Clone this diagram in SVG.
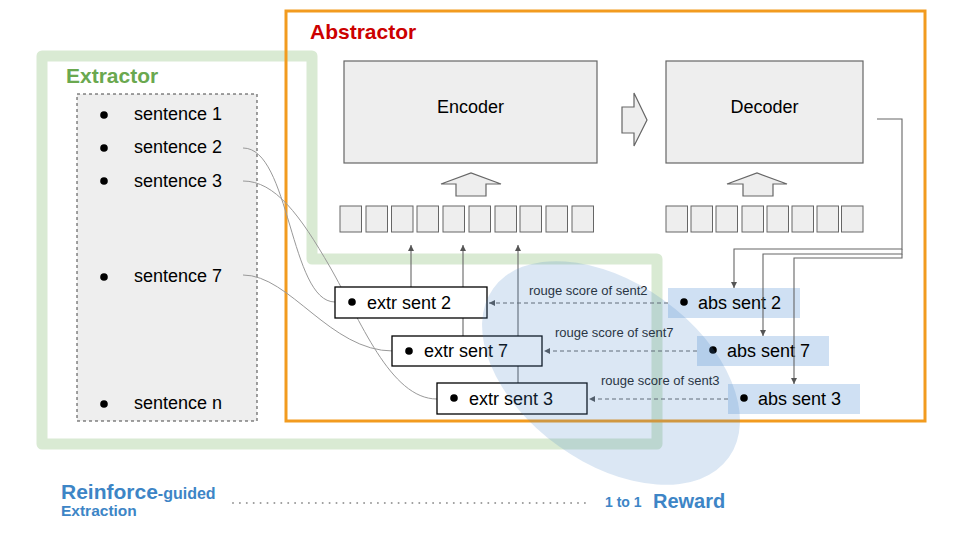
<svg xmlns="http://www.w3.org/2000/svg" width="960" height="540" viewBox="0 0 960 540">
<defs>
<style>
text{font-family:"Liberation Sans",Arial,sans-serif;}
.sent{font-size:18px;fill:#000;}
.lbl{font-size:13px;fill:#222;}
.block{fill:#eeeeee;stroke:#666;stroke-width:1.2;}
.tok{fill:#eeeeee;stroke:#666;stroke-width:1;}
.extr{fill:#fff;stroke:#000;stroke-width:1.3;}
.abs{fill:#cfe0f3;stroke:none;}
.curve{fill:none;stroke:#999;stroke-width:1;}
.conn{fill:none;stroke:#666;stroke-width:1.1;}
.dash{fill:none;stroke:#666;stroke-width:1;stroke-dasharray:4 3;}
</style>
<marker id="ah" viewBox="0 0 10 10" refX="10" refY="5" markerWidth="6" markerHeight="6" markerUnits="userSpaceOnUse" orient="auto">
<path d="M0,0 L10,5 L0,10 Z" fill="#555"/>
</marker>
</defs>
<rect width="960" height="540" fill="#fff"/>

<g id="extractor-frame">
<path d="M42,56 H312 V259 H657 V444 H42 Z" fill="none" stroke="#d9ead3" stroke-width="11" stroke-linejoin="round"/>
<text x="66" y="83" font-size="21" font-weight="bold" fill="#6aa84f">Extractor</text>
</g>

<g id="abstractor-frame">
<rect x="286" y="11" width="639" height="410" fill="none" stroke="#f29b1f" stroke-width="3"/>
<text x="310" y="39" font-size="21" font-weight="bold" fill="#cc0000">Abstractor</text>
</g>

<g id="document">
<rect x="77" y="94" width="180" height="327" fill="#eeeeee" stroke="#444" stroke-width="1" stroke-dasharray="3 3"/>
<circle cx="104" cy="115" r="3.8"/><text class="sent" x="134" y="120">sentence 1</text>
<circle cx="104" cy="148" r="3.8"/><text class="sent" x="134" y="153">sentence 2</text>
<circle cx="104" cy="181" r="3.8"/><text class="sent" x="134" y="187">sentence 3</text>
<circle cx="104" cy="277" r="3.8"/><text class="sent" x="134" y="282">sentence 7</text>
<circle cx="104" cy="404" r="3.8"/><text class="sent" x="134" y="409">sentence n</text>
</g>

<g id="encoder">
<rect class="block" x="344" y="61" width="253" height="102"/>
<text class="sent" x="470.5" y="113" text-anchor="middle">Encoder</text>
</g>
<g id="decoder">
<rect class="block" x="666" y="61" width="197" height="102"/>
<text class="sent" x="764.5" y="113" text-anchor="middle">Decoder</text>
</g>
<g id="enc-to-dec">
<path class="block" d="M622,107 H634 V93 L647,120 L634,146 V133 H622 Z"/>
</g>
<g id="enc-up-arrow">
<path class="block" d="M456,196 V184 H441 L471,173 L501,184 H486 V196 Z"/>
</g>
<g id="dec-up-arrow">
<path class="block" d="M743,196 V184 H727 L757,173 L787,184 H773 V196 Z"/>
</g>
<g id="enc-tokens">
<rect class="tok" x="340" y="206" width="21.5" height="26"/>
<rect class="tok" x="366" y="206" width="21.5" height="26"/>
<rect class="tok" x="391.5" y="206" width="21.5" height="26"/>
<rect class="tok" x="417" y="206" width="21.5" height="26"/>
<rect class="tok" x="443" y="206" width="21.5" height="26"/>
<rect class="tok" x="469" y="206" width="21.5" height="26"/>
<rect class="tok" x="495" y="206" width="21.5" height="26"/>
<rect class="tok" x="520" y="206" width="21.5" height="26"/>
<rect class="tok" x="546" y="206" width="21.5" height="26"/>
<rect class="tok" x="572" y="206" width="21.5" height="26"/>
</g>
<g id="dec-tokens">
<rect class="tok" x="666" y="206" width="21.5" height="26"/>
<rect class="tok" x="691" y="206" width="21.5" height="26"/>
<rect class="tok" x="716" y="206" width="21.5" height="26"/>
<rect class="tok" x="742" y="206" width="21.5" height="26"/>
<rect class="tok" x="767" y="206" width="21.5" height="26"/>
<rect class="tok" x="792" y="206" width="21.5" height="26"/>
<rect class="tok" x="817" y="206" width="21.5" height="26"/>
<rect class="tok" x="841.5" y="206" width="21.5" height="26"/>
</g>

<g id="connectors">
<path class="curve" d="M243,148 C290,148 290,302 335,302"/>
<path class="curve" d="M243,181 C275,181 300,215 330,267 C360,319 390,399 437,399"/>
<path class="curve" d="M243,275 C290,275 330,351 393,351"/>
<path class="conn" d="M411,287 V245" marker-end="url(#ah)"/>
<path class="conn" d="M463,336 V245" marker-end="url(#ah)"/>
<path class="conn" d="M518,383 V245" marker-end="url(#ah)"/>
</g>

<g id="extr-sent-2">
<rect class="extr" x="335" y="287" width="152" height="31"/>
<circle cx="352" cy="302" r="3.8"/><text class="sent" x="367" y="309">extr sent 2</text>
</g>
<g id="extr-sent-7">
<rect class="extr" x="392" y="336" width="150" height="30"/>
<circle cx="409" cy="351" r="3.8"/><text class="sent" x="424" y="357">extr sent 7</text>
</g>
<g id="extr-sent-3">
<rect class="extr" x="437" y="383" width="150" height="31"/>
<circle cx="454" cy="398" r="3.8"/><text class="sent" x="469" y="405">extr sent 3</text>
</g>

<g id="abs-sent-2">
<rect class="abs" x="668" y="288" width="132" height="30"/>
<circle cx="684" cy="302" r="3.8"/><text class="sent" x="698" y="309">abs sent 2</text>
</g>
<g id="abs-sent-7">
<rect class="abs" x="697" y="336" width="132" height="30"/>
<circle cx="713" cy="350" r="3.8"/><text class="sent" x="727" y="357">abs sent 7</text>
</g>
<g id="abs-sent-3">
<rect class="abs" x="728" y="384" width="132" height="30"/>
<circle cx="744" cy="398" r="3.8"/><text class="sent" x="758" y="405">abs sent 3</text>
</g>

<g id="decoder-outputs">
<path class="conn" d="M877,119 H902 V249 H734 V288" marker-end="url(#ah)"/>
<path class="conn" d="M902,249 V254 H763 V336" marker-end="url(#ah)"/>
<path class="conn" d="M902,254 V258 H794 V384" marker-end="url(#ah)"/>
</g>

<g id="rouge-arrows">
<path class="dash" d="M668,303 H489" marker-end="url(#ah)"/>
<text class="lbl" x="529" y="295">rouge score of sent2</text>
<path class="dash" d="M697,351 H544" marker-end="url(#ah)"/>
<text class="lbl" x="555" y="337">rouge score of sent7</text>
<path class="dash" d="M728,399 H589" marker-end="url(#ah)"/>
<text class="lbl" x="601" y="385">rouge score of sent3</text>
</g>

<g id="reward-region">
<ellipse cx="611" cy="373" rx="145" ry="90" transform="rotate(35.7 611 373)" fill="#4a86c8" fill-opacity="0.2"/>
</g>

<g id="legend">
<text x="61" y="499" font-weight="bold" fill="#3d85c6"><tspan font-size="21">Reinforce</tspan><tspan font-size="16">-guided</tspan></text>
<text x="61" y="516" font-size="15.5" font-weight="bold" fill="#3d85c6">Extraction</text>
<path d="M233,503 H590" stroke="#9a9a9a" stroke-width="2" stroke-linecap="round" stroke-dasharray="0 6.9" fill="none"/>
<text x="605" y="507" font-size="14" font-weight="bold" fill="#3d85c6">1 to 1</text>
<text x="653" y="508" font-size="20" font-weight="bold" fill="#3d85c6">Reward</text>
</g>
</svg>
